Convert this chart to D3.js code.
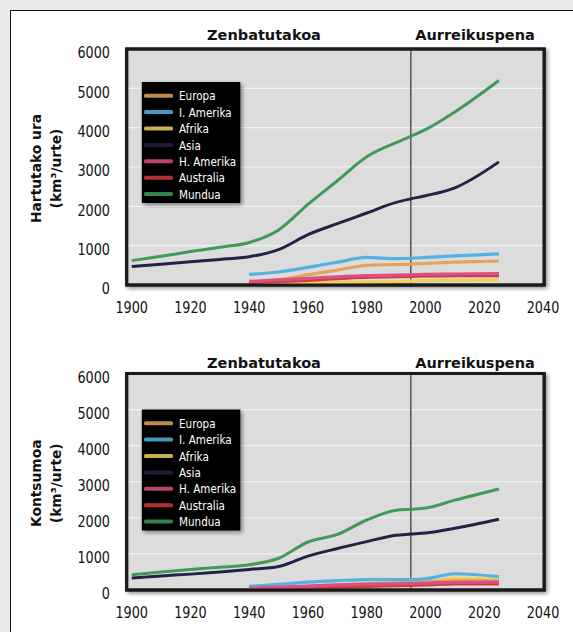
<!DOCTYPE html>
<html>
<head>
<meta charset="utf-8">
<script src="https://cdn.jsdelivr.net/npm/d3@7"></script>
<style>
  html, body { margin: 0; padding: 0; background: #ebebeb; }
  svg { display: block; }
  .tick-label { font-family: "DejaVu Sans", sans-serif; font-size: 16px; fill: #111; }
  .title { font-family: "DejaVu Sans", sans-serif; font-weight: bold; font-size: 14.5px; fill: #111; }
  .ytitle { font-family: "DejaVu Sans", sans-serif; font-weight: bold; font-size: 13.8px; fill: #111; }
  .legend-label { font-family: "DejaVu Sans", sans-serif; font-size: 13px; fill: #fff; }
</style>
</head>
<body>
<svg id="chart" width="573" height="632"></svg>
<script>
// ---------------- DATA ----------------
const yearsWorld = [1900, 1910, 1920, 1930, 1940, 1950, 1960, 1970, 1980, 1990, 1995, 2000, 2010, 2025];
const yearsRegion = [1940, 1950, 1960, 1970, 1980, 1990, 1995, 2000, 2010, 2025];
const xTicks = [1900, 1920, 1940, 1960, 1980, 2000, 2020, 2040];
const yTicks = [0, 1000, 2000, 3000, 4000, 5000, 6000];
const splitYear = 1995;
const periodLabels = ["Zenbatutakoa", "Aurreikuspena"];
const seriesNames = ["Europa", "I. Amerika", "Afrika", "Asia", "H. Amerika", "Australia", "Mundua"];
const seriesColors = ["#e2a35a", "#55b2de", "#ecd058", "#24244a", "#dc4f84", "#d23a3e", "#3f9a58"];

// Hartutako ura (withdrawal), km3/urte
const withdrawalEuropa    = [60, 130, 260, 380, 500, 520, 530, 550, 580, 610];
const withdrawalIAmerika  = [270, 330, 450, 580, 700, 670, 680, 700, 740, 790];
const withdrawalAfrika    = [40, 50, 60, 70, 80, 90, 100, 110, 120, 130];
const withdrawalAsia      = [470, 530, 590, 650, 720, 900, 1280, 1560, 1830, 2100, 2190, 2270, 2470, 3130];
const withdrawalHAmerika  = [90, 130, 170, 210, 240, 250, 260, 270, 280, 290];
const withdrawalAustralia = [60, 90, 120, 160, 200, 210, 220, 230, 235, 240];
const withdrawalMundua    = [620, 730, 850, 960, 1080, 1400, 2050, 2650, 3260, 3620, 3780, 3950, 4400, 5200];

// Kontsumoa (consumption), km3/urte
const consumptionEuropa    = [30, 60, 100, 140, 180, 200, 210, 220, 260, 250];
const consumptionIAmerika  = [100, 160, 220, 260, 290, 290, 290, 310, 450, 370];
const consumptionAfrika    = [40, 60, 90, 120, 150, 170, 180, 200, 320, 300];
const consumptionAsia      = [330, 390, 440, 500, 570, 650, 940, 1150, 1340, 1520, 1550, 1580, 1710, 1960];
const consumptionHAmerika  = [50, 80, 110, 140, 160, 170, 180, 190, 210, 220];
const consumptionAustralia = [20, 30, 50, 70, 100, 120, 130, 140, 170, 170];
const consumptionMundua    = [420, 500, 570, 630, 700, 880, 1330, 1540, 1940, 2210, 2240, 2270, 2490, 2800];

const yTitles = [["Hartutako ura", "(km³/urte)"], ["Kontsumoa", "(km³/urte)"]];

// ---------------- DRAW ----------------
const svg = d3.select("#chart");
const defs = svg.append("defs");
const sh = defs.append("filter").attr("id", "shadow").attr("x", "-5%").attr("y", "-5%").attr("width", "110%").attr("height", "115%");
sh.append("feGaussianBlur").attr("in", "SourceAlpha").attr("stdDeviation", 2).attr("result", "b");
sh.append("feOffset").attr("in", "b").attr("dx", 1.5).attr("dy", 2).attr("result", "o");
sh.append("feComponentTransfer").attr("in", "o").attr("result", "o2")
  .append("feFuncA").attr("type", "linear").attr("slope", 0.45);
const m = sh.append("feMerge");
m.append("feMergeNode").attr("in", "o2");
m.append("feMergeNode").attr("in", "SourceGraphic");

const soft = defs.append("filter").attr("id", "soft").attr("filterUnits", "userSpaceOnUse")
  .attr("x", 0).attr("y", 0).attr("width", 573).attr("height", 632);
soft.append("feGaussianBlur").attr("stdDeviation", 0.55);

// white panel
svg.append("rect").attr("x", 10.5).attr("y", 10.5).attr("width", 620).attr("height", 700)
  .attr("fill", "#fff").attr("stroke", "#111").attr("stroke-width", 1);

const x = d3.scaleLinear().domain([1900, 2040]).range([131.7, 543]);
const narrow = 0.8;

const charts = [
  { y0: 285, yTop: 49, titleY: 39.5, labelDy: 3.5, legendTop: 82, rowH: 16.4,
    world: { Asia: withdrawalAsia, Mundua: withdrawalMundua },
    region: { "Europa": withdrawalEuropa, "I. Amerika": withdrawalIAmerika, "Afrika": withdrawalAfrika,
              "H. Amerika": withdrawalHAmerika, "Australia": withdrawalAustralia },
    titles: yTitles[0] },
  { y0: 590, yTop: 373.5, titleY: 367.5, labelDy: 3.3, legendTop: 409.5, rowH: 16.4,
    world: { Asia: consumptionAsia, Mundua: consumptionMundua },
    region: { "Europa": consumptionEuropa, "I. Amerika": consumptionIAmerika, "Afrika": consumptionAfrika,
              "H. Amerika": consumptionHAmerika, "Australia": consumptionAustralia },
    titles: yTitles[1] }
];

charts.forEach(c => {
  const y = d3.scaleLinear().domain([0, 6000]).range([c.y0, c.yTop]);
  const g = svg.append("g");
  const left = x(1898.3), right = x(2040.4);

  g.append("rect").attr("x", left).attr("y", y(6000)).attr("width", right - left).attr("height", y(0) - y(6000))
    .attr("fill", "#dcdcdc").attr("stroke", "#1a1a1a").attr("stroke-width", 3).attr("filter", "url(#shadow)");

  g.selectAll(".grid").data(yTicks.filter(v => v > 0 && v < 6000)).join("line")
    .attr("x1", left + 1.5).attr("x2", right - 1.5).attr("y1", d => y(d)).attr("y2", d => y(d))
    .attr("stroke", "#f2f2f2").attr("stroke-width", 1.2);

  g.append("line").attr("x1", x(splitYear)).attr("x2", x(splitYear)).attr("y1", y(6000)).attr("y2", y(0))
    .attr("stroke", "#555").attr("stroke-width", 1.5);

  const line = (years) => d3.line().x((d, i) => x(years[i])).y(d => y(d)).curve(d3.curveMonotoneX);

  const lg = g.append("g").attr("filter", "url(#soft)");
  ["Afrika", "Europa", "I. Amerika", "Australia", "H. Amerika"].forEach(name => {
    lg.append("path").datum(c.region[name]).attr("d", line(yearsRegion))
      .attr("fill", "none").attr("stroke", seriesColors[seriesNames.indexOf(name)])
      .attr("stroke-width", 3.2).attr("stroke-linejoin", "round");
  });
  ["Asia", "Mundua"].forEach(name => {
    lg.append("path").datum(c.world[name]).attr("d", line(yearsWorld))
      .attr("fill", "none").attr("stroke", seriesColors[seriesNames.indexOf(name)])
      .attr("stroke-width", 3).attr("stroke-linejoin", "round");
  });

  g.append("rect").attr("x", left).attr("y", y(6000)).attr("width", right - left).attr("height", y(0) - y(6000))
    .attr("fill", "none").attr("stroke", "#1a1a1a").attr("stroke-width", 3);

  // y tick labels (condensed)
  g.selectAll(".yl").data(yTicks).join("text").attr("class", "tick-label")
    .attr("transform", d => `translate(110,${y(d) + c.labelDy}) scale(${narrow},1)`)
    .attr("dy", "0.36em").attr("text-anchor", "end")
    .text(d => d);

  // x tick labels (condensed)
  g.selectAll(".xl").data(xTicks).join("text").attr("class", "tick-label")
    .attr("transform", d => `translate(${x(d)},${y(0) + 22.5}) scale(${narrow},1)`)
    .attr("dy", "0.36em").attr("text-anchor", "middle")
    .text(d => d);

  g.append("text").attr("class", "title").attr("x", 264).attr("y", c.titleY).attr("text-anchor", "middle").text(periodLabels[0]);
  g.append("text").attr("class", "title").attr("x", 475).attr("y", c.titleY).attr("text-anchor", "middle").text(periodLabels[1]);

  const cy = (y(0) + y(6000)) / 2 + 1.5;
  [36.5, 56.5].forEach((tx, i) => {
    g.append("text").attr("class", "ytitle")
      .attr("transform", `translate(${tx},${cy}) rotate(-90)`)
      .attr("text-anchor", "middle").attr("dy", "0.36em").text(c.titles[i]);
  });

  // legend
  const lgd = g.append("g");
  lgd.append("rect").attr("x", 141.8).attr("y", c.legendTop).attr("width", 98.5).attr("height", 121)
    .attr("fill", "#050505").attr("filter", "url(#shadow)");
  seriesNames.forEach((name, i) => {
    const ry = c.legendTop + 13.7 + i * c.rowH;
    lgd.append("rect").attr("x", 144).attr("y", ry - 2).attr("width", 29).attr("height", 4).attr("rx", 1.5)
      .attr("fill", seriesColors[i]).attr("opacity", 0.85)
      .attr("filter", "url(#soft)");
    lgd.append("text").attr("class", "legend-label")
      .attr("transform", `translate(179,${ry}) scale(${narrow},1)`)
      .attr("dy", "0.36em").text(name);
  });
});
</script>
</body>
</html>
